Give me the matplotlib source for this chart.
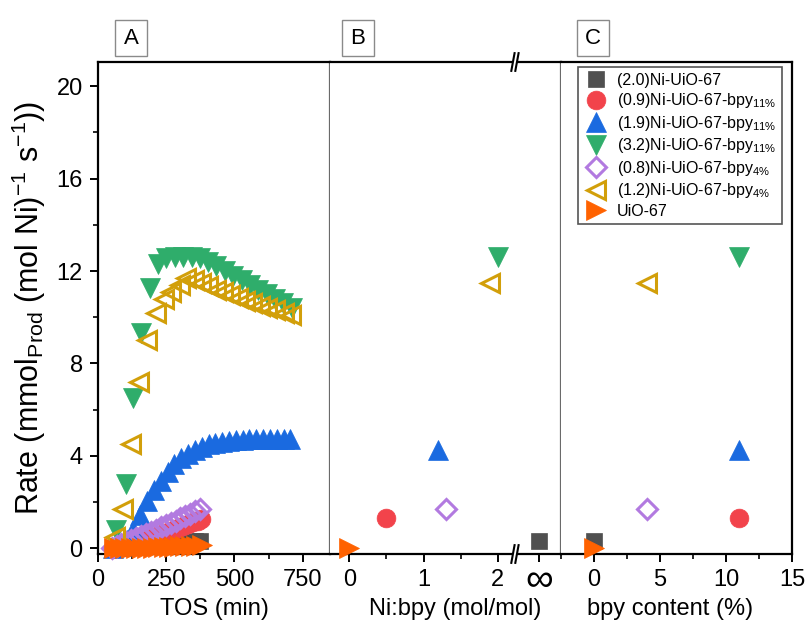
import matplotlib
matplotlib.use("Agg")
import matplotlib.pyplot as plt
import matplotlib.transforms as mtransforms
from matplotlib.lines import Line2D
from matplotlib.patches import Rectangle
from matplotlib.ticker import FixedLocator, MultipleLocator

plt.rcParams['font.family'] = ['Liberation Sans', 'DejaVu Sans']
plt.rcParams['mathtext.fontset'] = 'custom'
plt.rcParams['mathtext.rm'] = 'Liberation Sans'
plt.rcParams['mathtext.it'] = 'Liberation Sans:italic'
plt.rcParams['mathtext.bf'] = 'Liberation Sans:bold'

# ---- catalysts -------------------------------------------------------------
labels = [
    "(2.0)Ni-UiO-67",
    "(0.9)Ni-UiO-67-bpy$_{\\mathrm{11\\%}}$",
    "(1.9)Ni-UiO-67-bpy$_{\\mathrm{11\\%}}$",
    "(3.2)Ni-UiO-67-bpy$_{\\mathrm{11\\%}}$",
    "(0.8)Ni-UiO-67-bpy$_{\\mathrm{4\\%}}$",
    "(1.2)Ni-UiO-67-bpy$_{\\mathrm{4\\%}}$",
    "UiO-67",
]
colors = ["#505050", "#f2434b", "#1a6ae0", "#2fad6b", "#b27ae0", "#d29f0a", "#ff6200"]
markers = ["s", "o", "^", "v", "D", "<", ">"]
hollow = [False, False, False, False, True, True, False]
msizes = [12, 13.5, 14, 14, 10.5, 13, 14]

# ---- panel A: rate vs time on stream ---------------------------------------
tos_ni20 = [55, 75, 95, 115, 135, 155, 175, 195, 215, 235, 255, 275, 295, 315, 335, 355, 372]
rate_ni20 = [0.0, 0.0, 0.02, 0.04, 0.06, 0.08, 0.1, 0.12, 0.14, 0.16, 0.18, 0.2, 0.22, 0.25, 0.28, 0.31, 0.33]

tos_ni09 = [60, 78, 96, 114, 132, 150, 168, 186, 204, 222, 240, 258, 276, 294, 312, 330, 348, 366, 378]
rate_ni09 = [0.0, 0.03, 0.07, 0.12, 0.18, 0.25, 0.32, 0.4, 0.48, 0.56, 0.64, 0.72, 0.8, 0.88, 0.96, 1.04, 1.12, 1.2, 1.28]

tos_ni19 = [55, 80, 105, 130, 155, 180, 205, 230, 255, 280, 305, 330, 355, 380, 405, 430, 455,
            480, 505, 530, 555, 580, 605, 630, 655, 680, 705]
rate_ni19 = [0.0, 0.1, 0.35, 0.8, 1.45, 2.05, 2.5, 2.9, 3.3, 3.65, 3.9, 4.1, 4.25, 4.4, 4.5, 4.55, 4.6,
             4.65, 4.68, 4.7, 4.72, 4.73, 4.75, 4.75, 4.75, 4.75, 4.75]

tos_ni32 = [65, 101, 127, 159, 189, 219, 250, 281, 311, 343, 373, 404, 434, 465, 496, 526, 557,
            587, 618, 649, 679, 710]
rate_ni32 = [0.8, 2.8, 6.5, 9.3, 11.25, 12.3, 12.55, 12.6, 12.6, 12.6, 12.55, 12.4, 12.2, 12.0, 11.8,
             11.6, 11.4, 11.2, 11.0, 10.8, 10.6, 10.4]

tos_ni08 = [50, 68, 86, 104, 122, 140, 158, 176, 194, 212, 230, 248, 266, 284, 302, 320, 338, 356, 373]
rate_ni08 = [0.02, 0.1, 0.18, 0.27, 0.36, 0.45, 0.54, 0.63, 0.72, 0.81, 0.9, 1.0, 1.1, 1.2, 1.3, 1.4,
             1.5, 1.6, 1.7]

tos_ni12 = [61, 90, 120, 150, 180, 212, 240, 268, 302, 324, 350, 377, 404, 431, 458, 485, 512, 539,
            566, 593, 620, 650, 680, 707]
rate_ni12 = [0.5, 1.7, 4.5, 7.2, 9.0, 10.2, 10.8, 11.1, 11.4, 11.7, 11.6, 11.5, 11.35, 11.2, 11.1,
             10.95, 10.85, 10.7, 10.6, 10.5, 10.4, 10.3, 10.2, 10.1]

tos_uio = [60, 80, 100, 120, 140, 160, 180, 200, 220, 240, 260, 280, 300, 320, 340, 360, 380]
rate_uio = [0.0, 0.0, 0.0, 0.0, 0.0, 0.01, 0.02, 0.03, 0.04, 0.05, 0.06, 0.07, 0.08, 0.09, 0.1, 0.11, 0.12]

tos_series = [tos_ni20, tos_ni09, tos_ni19, tos_ni32, tos_ni08, tos_ni12, tos_uio]
rate_series = [rate_ni20, rate_ni09, rate_ni19, rate_ni32, rate_ni08, rate_ni12, rate_uio]

# ---- panels B and C: steady-state rate per catalyst -------------------------
ni_bpy = [float("inf"), 0.5, 1.2, 2.0, 1.3, 1.9, 0.0]
bpy_content = [0, 11, 11, 11, 4, 4, 0]
rate_summary = [0.3, 1.3, 4.25, 12.6, 1.7, 11.5, 0.0]
INF_POS = 2.56      # where the "no bpy" (infinite ratio) column sits on the Ni:bpy axis
BREAK_POS = 2.23

# ---- layout ----------------------------------------------------------------
W, H = 810, 637
fig = plt.figure(figsize=(W / 100, H / 100), dpi=100)


def fx(px):
    return px / W


def fy(py):
    return 1 - py / H


left, x1, x2, right = 98, 330, 561, 792
top, bottom = 62, 554
ax_a = fig.add_axes([fx(left), fy(bottom), fx(x1) - fx(left), fy(top) - fy(bottom)])
ax_b = fig.add_axes([fx(x1), fy(bottom), fx(x2) - fx(x1), fy(top) - fy(bottom)])
ax_c = fig.add_axes([fx(x2), fy(bottom), fx(right) - fx(x2), fy(top) - fy(bottom)])

SEP = "#6a6a6a"
for ax in (ax_a, ax_b, ax_c):
    ax.set_ylim(-0.25, 21.05)
    for s in ax.spines.values():
        s.set_linewidth(1.6)
        s.set_color("black")
    ax.tick_params(which="major", direction="out", length=6, width=1.4, labelsize=17, pad=5)
    ax.tick_params(which="minor", direction="out", length=3.5, width=1.2)
    ax.tick_params(axis="y", which="both", left=False, right=False, labelleft=False)

ax_a.spines["right"].set_color(SEP)
ax_b.spines["left"].set_visible(False)
ax_b.spines["right"].set_color(SEP)
ax_c.spines["left"].set_visible(False)

ax_a.tick_params(axis="y", which="both", left=True, labelleft=True)
ax_a.yaxis.set_major_locator(MultipleLocator(4))
ax_a.yaxis.set_minor_locator(MultipleLocator(2))

ax_a.set_xlim(0, 850)
ax_a.xaxis.set_major_locator(FixedLocator([0, 250, 500, 750]))
ax_a.xaxis.set_minor_locator(FixedLocator([125, 375, 625]))

ax_b.set_xlim(-0.26, 2.85)
ax_b.xaxis.set_major_locator(FixedLocator([0, 1, 2, INF_POS]))
ax_b.xaxis.set_minor_locator(FixedLocator([0.5, 1.5]))
ax_b.set_xticklabels(["0", "1", "2", ""])
bx = mtransforms.blended_transform_factory(ax_b.transData, ax_b.transAxes)
ax_b.annotate("∞", xy=(INF_POS, 0), xycoords=bx, xytext=(0, -27), textcoords="offset pixels",
              ha="center", va="center", fontsize=28)

ax_c.set_xlim(-2.5, 15)
ax_c.xaxis.set_major_locator(FixedLocator([0, 5, 10, 15]))
ax_c.xaxis.set_minor_locator(FixedLocator([-2.5, 2.5, 7.5, 12.5]))


def style(i):
    kw = dict(linestyle="none", marker=markers[i], markersize=msizes[i], clip_on=False, zorder=4 + i)
    if hollow[i]:
        kw.update(markerfacecolor="none", markeredgecolor=colors[i], markeredgewidth=2.2)
    else:
        kw.update(markerfacecolor=colors[i], markeredgecolor=colors[i], markeredgewidth=0.5)
    return kw


for i in range(len(labels)):
    ax_a.plot(tos_series[i], rate_series[i], **style(i))
    xb = INF_POS if ni_bpy[i] == float("inf") else ni_bpy[i]
    ax_b.plot([xb], [rate_summary[i]], **style(i))
    ax_c.plot([bpy_content[i]], [rate_summary[i]], **style(i))

# axis break marks on the Ni:bpy axis
for yb in (0.0, 1.0):
    ax_b.plot([BREAK_POS - 0.03, BREAK_POS + 0.03], [yb, yb], transform=bx, color="white",
              lw=3, clip_on=False, zorder=10, solid_capstyle="butt")
    for dx in (-0.027, 0.027):
        ax_b.plot([BREAK_POS + dx - 0.022, BREAK_POS + dx + 0.022], [yb - 0.018, yb + 0.018],
                  transform=bx, color="black", lw=1.5, clip_on=False, zorder=11)

# labels
ax_a.set_ylabel("Rate (mmol$_{\\mathrm{Prod}}$ (mol Ni)$^{-1}$ s$^{-1}$))", fontsize=22, labelpad=6)
label_y = -(598 - bottom) / (bottom - top)
for ax, text, shift in ((ax_a, "TOS (min)", 0), (ax_b, "Ni:bpy (mol/mol)", 10),
                        (ax_c, "bpy content (%)", -6)):
    ax.set_xlabel(text, fontsize=17)
    ax.xaxis.set_label_coords(0.5 + shift / 231, label_y)

# panel tags
for tag, px in (("A", 115), ("B", 342), ("C", 577)):
    fig.add_artist(Rectangle((fx(px), fy(56)), fx(32), fy(20) - fy(56), transform=fig.transFigure,
                             facecolor="white", edgecolor="#8a8a8a", lw=1.0))
    fig.text(fx(px + 16), fy(38), tag, ha="center", va="center", fontsize=16)

# legend
handles = [Line2D([], [], **{k: v for k, v in style(i).items() if k not in ("clip_on", "zorder")})
           for i in range(len(labels))]
leg = fig.legend(handles, labels, loc="upper left", bbox_to_anchor=(fx(578), fy(67)),
                 bbox_transform=fig.transFigure, borderaxespad=0, fontsize=11.5,
                 handlelength=1.5, handletextpad=0.6, labelspacing=0.22, borderpad=0.35,
                 fancybox=False, framealpha=1, edgecolor="#555555")
leg.get_frame().set_linewidth(1.2)

fig.savefig("out.png", dpi=100)
